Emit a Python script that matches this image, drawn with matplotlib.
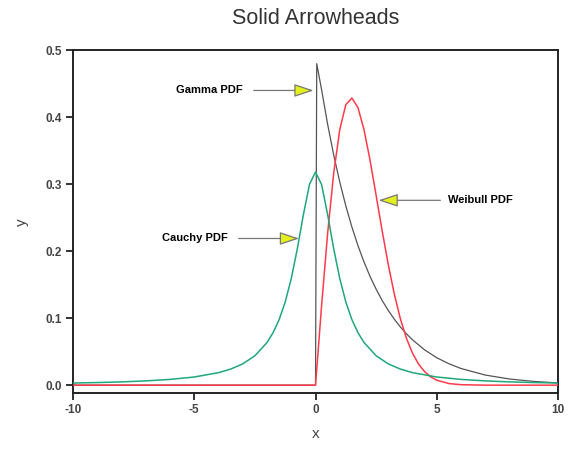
import matplotlib.pyplot as plt

plt.rcParams['axes.unicode_minus'] = False

# 读图估计的三条概率密度曲线
cauchy_x = [-10, -9, -8, -7, -6, -5, -4, -3.5, -3, -2.5, -2, -1.75, -1.5, -1.25, -1,
            -0.75, -0.5, -0.25, 0, 0.25, 0.5, 0.75, 1, 1.25, 1.5, 1.75, 2, 2.5, 3,
            3.5, 4, 5, 6, 7, 8, 9, 10]
cauchy_y = [0.0032, 0.0039, 0.0049, 0.0064, 0.0086, 0.0122, 0.0187, 0.0240, 0.0318,
            0.0439, 0.0637, 0.0784, 0.0979, 0.1242, 0.1592, 0.2037, 0.2546, 0.2996,
            0.3183, 0.2996, 0.2546, 0.2037, 0.1592, 0.1242, 0.0979, 0.0784, 0.0637,
            0.0439, 0.0318, 0.0240, 0.0187, 0.0122, 0.0086, 0.0064, 0.0049, 0.0039,
            0.0032]

gamma_x = [-10, 0, 0, 0.05, 0.25, 0.5, 0.75, 1, 1.25, 1.5, 1.75, 2, 2.25, 2.5, 2.75,
           3, 3.25, 3.5, 3.75, 4, 4.5, 5, 5.5, 6, 7, 8, 9, 10]
gamma_y = [0, 0, 0, 0.4800, 0.4412, 0.3894, 0.3437, 0.3033, 0.2676, 0.2362, 0.2084,
           0.1839, 0.1623, 0.1433, 0.1264, 0.1116, 0.0985, 0.0869, 0.0767, 0.0677,
           0.0527, 0.0410, 0.0320, 0.0249, 0.0151, 0.0092, 0.0056, 0.0034]

weibull_x = [-10, 0, 0.25, 0.5, 0.75, 1, 1.25, 1.5, 1.75, 2, 2.25, 2.5, 2.75, 3, 3.25,
             3.5, 3.75, 4, 4.25, 4.5, 4.75, 5, 5.5, 6, 7, 10]
weibull_y = [0, 0, 0.1185, 0.2269, 0.3166, 0.3816, 0.4188, 0.4287, 0.4145, 0.3814,
             0.3357, 0.2834, 0.2302, 0.1801, 0.1360, 0.0991, 0.0700, 0.0477, 0.0315,
             0.0201, 0.0124, 0.0074, 0.0024, 0.0007, 0, 0]

# 注释: 文字, 文字位置, 箭头起点, 箭头终点
labels = ['Gamma PDF', 'Cauchy PDF', 'Weibull PDF']
text_pos = [(-3.0, 0.44), (-3.6, 0.219), (5.45, 0.276)]
text_ha = ['right', 'right', 'left']
arrow_from = [(-2.55, 0.44), (-3.17, 0.219), (5.15, 0.276)]
arrow_to = [(-0.08, 0.44), (-0.68, 0.219), (2.6, 0.276)]

fig = plt.figure(figsize=(5.8, 4.53), dpi=100)
ax = fig.add_axes([0.126, 0.132, 0.836, 0.757])

ax.plot(weibull_x, weibull_y, color='#ff3a4a', lw=1.1, zorder=3)
ax.plot(gamma_x, gamma_y, color='#555555', lw=0.9, zorder=2)
ax.plot(cauchy_x, cauchy_y, color='#1fa878', lw=1.1, zorder=4)

for lab, tp, ha, a0, a1 in zip(labels, text_pos, text_ha, arrow_from, arrow_to):
	ax.text(tp[0], tp[1], lab, ha=ha, va='center', fontsize=8, fontweight='heavy',
	        family='Liberation Sans', color='black')
	ax.annotate('', xy=a1, xytext=a0,
	            arrowprops=dict(arrowstyle='-|>,head_length=1.2,head_width=0.4',
	                            mutation_scale=10, fc='#e4f01c', ec='#777777',
	                            lw=0.9, shrinkA=0, shrinkB=0), zorder=5)

ax.set_xlim(-10, 10)
ax.set_ylim(-0.012, 0.5)
ax.set_xticks([-10, -5, 0, 5, 10])
ax.set_yticks([0.0, 0.1, 0.2, 0.3, 0.4, 0.5])
ax.set_yticklabels(['0.0', '0.1', '0.2', '0.3', '0.4', '0.5'])

for s in ax.spines.values():
	s.set_linewidth(1.4)
	s.set_color('#222222')
ax.tick_params(direction='out', length=5, width=1.3, color='#222222',
               labelsize=8.5, labelcolor='#444444', pad=3)
for t in ax.get_xticklabels() + ax.get_yticklabels():
	t.set_fontweight('bold')
	t.set_family('Liberation Sans')

ax.set_xlabel('x', fontsize=11, color='#444444', family='Liberation Sans', labelpad=8)
ax.set_ylabel('y', fontsize=11, color='#444444', family='Liberation Sans', labelpad=12)
ax.set_title('Solid Arrowheads', fontsize=15.5, color='#333333', family='Liberation Sans',
             pad=19)

fig.savefig('out.png', dpi=100)
